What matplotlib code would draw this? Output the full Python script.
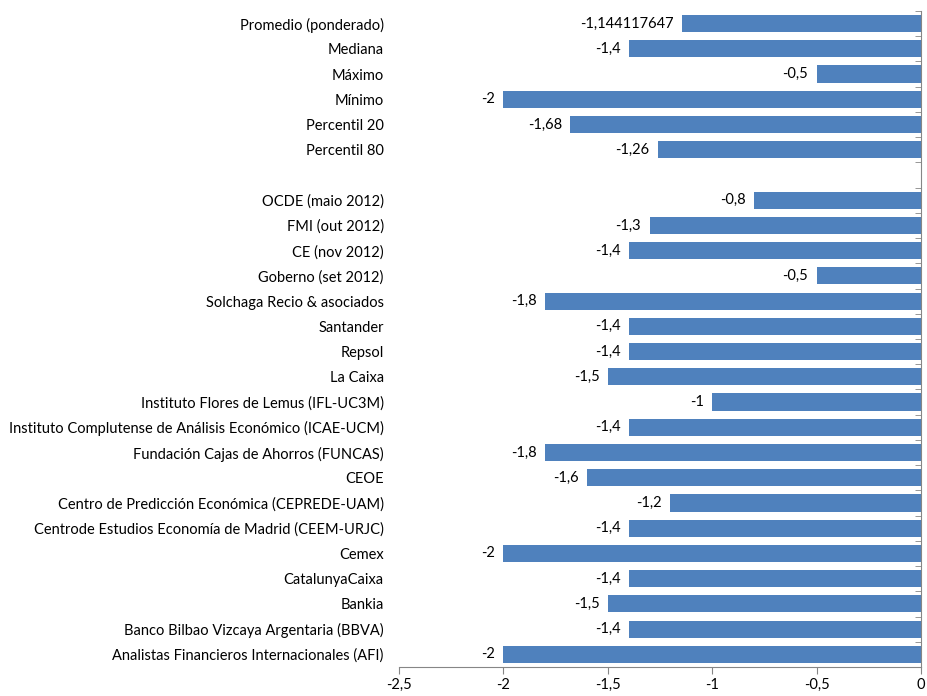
import numpy as np
import matplotlib
matplotlib.use("Agg")
from matplotlib import pyplot as plt
from matplotlib.ticker import FuncFormatter, FixedLocator

plt.rcParams['font.family'] = ['Lato', 'DejaVu Sans']

# categorias de arriba a abajo ("" = fila vacia)
categorias = [
    "Promedio (ponderado)", "Mediana", "Máximo", "Mínimo",
    "Percentil 20", "Percentil 80", "",
    "OCDE (maio 2012)", "FMI (out 2012)", "CE (nov 2012)", "Goberno (set 2012)",
    "Solchaga Recio & asociados", "Santander", "Repsol", "La Caixa",
    "Instituto Flores de Lemus (IFL-UC3M)",
    "Instituto Complutense de Análisis Económico (ICAE-UCM)",
    "Fundación Cajas de Ahorros (FUNCAS)", "CEOE",
    "Centro de Predicción Económica (CEPREDE-UAM)",
    "Centrode Estudios Economía de Madrid (CEEM-URJC)",
    "Cemex", "CatalunyaCaixa", "Bankia",
    "Banco Bilbao Vizcaya Argentaria (BBVA)",
    "Analistas Financieros Internacionales (AFI)",
]
valores = [
    -1.144117647, -1.4, -0.5, -2, -1.68, -1.26, np.nan,
    -0.8, -1.3, -1.4, -0.5, -1.8, -1.4, -1.4, -1.5, -1, -1.4,
    -1.8, -1.6, -1.2, -1.4, -2, -1.4, -1.5, -1.4, -2,
]
xticks = [-2.5, -2, -1.5, -1, -0.5, 0]

fs = 10.5

fig = plt.figure(figsize=(9.27, 6.96), dpi=100)
ax = fig.add_axes([0.4304, 0.0417, 0.5631, 0.9425])

n = len(categorias)
y = np.arange(n)
vals = np.array(valores, dtype=float)
bars = ax.barh(y, np.nan_to_num(vals), height=0.68, color='#4F81BD', zorder=2)

etiquetas = ["" if np.isnan(v) else ("%.10g" % v).replace('.', ',') for v in vals]
ax.bar_label(bars, labels=etiquetas, padding=6, fontsize=fs, color='black')

ax.set_ylim(n - 0.5, -0.5)
ax.set_xlim(-2.5, 0)

ax.set_yticks(y)
ax.set_yticklabels(categorias, fontsize=fs)
ax.yaxis.set_minor_locator(FixedLocator(np.arange(n + 1) - 0.5))
ax.tick_params(axis='y', which='major', left=True, right=False, length=0, pad=11)
ax.tick_params(axis='y', which='minor', left=False, right=True, direction='in',
               length=4, color='#868686')

ax.set_xticks(xticks)
ax.xaxis.set_major_formatter(FuncFormatter(lambda v, p: ("%g" % v).replace('.', ',')))
ax.tick_params(axis='x', length=5, color='#868686', labelsize=fs, pad=3)

for s in ['top', 'left']:
    ax.spines[s].set_visible(False)
for s in ['right', 'bottom']:
    ax.spines[s].set_color('#868686')

fig.savefig("out.png", dpi=100)
